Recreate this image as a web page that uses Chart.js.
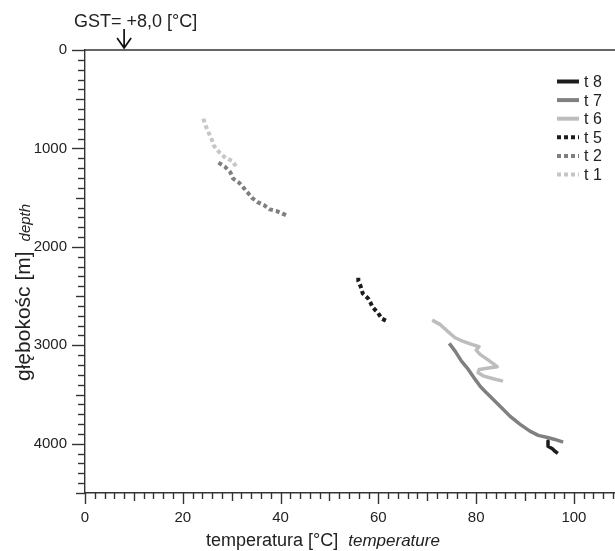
<!DOCTYPE html>
<html>
<head>
<meta charset="utf-8">
<script src="https://cdn.jsdelivr.net/npm/chart.js@4.4.0/dist/chart.umd.min.js"></script>
<style>
  html, body { margin: 0; padding: 0; background: #fff; overflow: hidden; }
  #wrap { width: 615px; height: 551px; }
</style>
</head>
<body>
<div id="wrap"><canvas id="profile" width="615" height="551"></canvas></div>
<script>
// temperature logs: temperature [°C] vs depth [m]
const t1Temp  = [24.2, 24.7, 25.3, 25.9, 26.4, 27.4, 28.8, 30.2, 30.9];
const t1Depth = [697, 772, 840, 907, 976, 1035, 1100, 1128, 1185];

const t2Temp  = [27.3, 28.6, 29.7, 30.3, 31.5, 32.4, 33.2, 34.1, 35.3, 36.6, 37.8, 39.2, 40.4, 41.6];
const t2Depth = [1144, 1185, 1240, 1307, 1347, 1398, 1443, 1500, 1545, 1575, 1619, 1636, 1662, 1687];

const t5Temp  = [55.9, 55.9, 56.4, 56.8, 57.9, 58.4, 58.8, 59.9, 60.7, 62.0];
const t5Depth = [2313, 2347, 2404, 2472, 2523, 2567, 2612, 2668, 2729, 2760];

const t6Temp  = [71.0, 72.6, 74.1, 75.7, 77.2, 79.1, 80.6, 80.0, 80.8, 82.5, 84.3, 82.5, 80.6, 80.4, 81.6, 83.5, 85.5];
const t6Depth = [2744, 2787, 2855, 2923, 2957, 2991, 3014, 3048, 3092, 3150, 3217, 3231, 3245, 3278, 3313, 3339, 3364];

const t7Temp  = [74.5, 75.7, 77.0, 78.4, 79.8, 80.9, 82.1, 83.5, 85.2, 86.9, 89.0, 91.0, 92.7, 94.4, 96.1, 97.8];
const t7Depth = [2980, 3059, 3160, 3245, 3346, 3420, 3481, 3549, 3634, 3719, 3803, 3872, 3915, 3933, 3956, 3983];

const t8Temp  = [94.7, 94.7, 95.6, 96.1, 96.7];
const t8Depth = [3973, 4024, 4050, 4075, 4098];

const seriesNames = ['t 1', 't 2', 't 5', 't 6', 't 7', 't 8'];
const xTicks = [0, 20, 40, 60, 80, 100];
const yTicks = [0, 1000, 2000, 3000, 4000];
const gstTemp = 8.0;

const FONT = '"Liberation Sans", Arial, sans-serif';
const TXT = '#222';
const AX = '#333';

const toPoints = (xs, ys) => xs.map((x, i) => ({ x: x, y: ys[i] }));

const styles = [
  { color: '#c6c6c6', dash: [4, 3], width: 4 },
  { color: '#7f7f7f', dash: [4, 3], width: 4 },
  { color: '#1c1c1c', dash: [4, 3], width: 4 },
  { color: '#bdbdbd', dash: [],     width: 3.5 },
  { color: '#808080', dash: [],     width: 3.5 },
  { color: '#1c1c1c', dash: [],     width: 3.5 }
];
const series = [
  [t1Temp, t1Depth], [t2Temp, t2Depth], [t5Temp, t5Depth],
  [t6Temp, t6Depth], [t7Temp, t7Depth], [t8Temp, t8Depth]
];

const datasets = series.map((s, i) => ({
  label: seriesNames[i],
  data: toPoints(s[0], s[1]),
  showLine: true,
  borderColor: styles[i].color,
  borderWidth: styles[i].width,
  borderDash: styles[i].dash,
  borderCapStyle: 'butt',
  borderJoinStyle: 'round',
  pointRadius: 0,
  tension: 0
}));

// axis ticks, titles, GST marker and legend
const decorations = {
  id: 'decorations',
  afterDraw(chart) {
    const ctx = chart.ctx;
    const xs = chart.scales.x, ys = chart.scales.y;
    const a = chart.chartArea;
    ctx.save();
    ctx.strokeStyle = AX;
    ctx.lineWidth = 1.4;

    // frame top
    ctx.beginPath();
    ctx.moveTo(a.left, a.top);
    ctx.lineTo(a.right, a.top);
    ctx.stroke();

    // depth ticks
    for (let v = 0; v <= 4500; v += 100) {
      const py = Math.round(ys.getPixelForValue(v)) + 0.5;
      const len = v % 1000 === 0 ? 13 : (v % 500 === 0 ? 9 : 7);
      ctx.beginPath();
      ctx.moveTo(a.left - len, py);
      ctx.lineTo(a.left, py);
      ctx.stroke();
    }
    // temperature ticks
    for (let v = 0; v <= 108; v += 2) {
      const px = Math.round(xs.getPixelForValue(v)) + 0.5;
      const len = v % 20 === 0 ? 11 : (v % 10 === 0 ? 8 : 6);
      ctx.beginPath();
      ctx.moveTo(px, a.bottom);
      ctx.lineTo(px, a.bottom + len);
      ctx.stroke();
    }

    // GST arrow
    const gx = xs.getPixelForValue(gstTemp);
    ctx.lineWidth = 1.7;
    ctx.strokeStyle = '#111';
    ctx.beginPath();
    ctx.moveTo(gx, 29);
    ctx.lineTo(gx, a.top - 2);
    ctx.moveTo(gx - 7, a.top - 12);
    ctx.lineTo(gx, a.top - 2);
    ctx.lineTo(gx + 7, a.top - 12);
    ctx.stroke();
    ctx.fillStyle = TXT;
    ctx.font = '18px ' + FONT;
    ctx.textAlign = 'left';
    ctx.textBaseline = 'alphabetic';
    ctx.fillText('GST= +8,0 [°C]', 74, 27);

    // x title
    ctx.font = '18px ' + FONT;
    const xt1 = 'temperatura [°C]';
    ctx.fillText(xt1, 206, 546);
    const w1 = ctx.measureText(xt1).width;
    ctx.font = 'italic 17px ' + FONT;
    ctx.fillText('temperature', 206 + w1 + 10, 546);

    // y title
    ctx.save();
    ctx.translate(30, 381);
    ctx.rotate(-Math.PI / 2);
    ctx.font = '21px ' + FONT;
    const yt1 = 'głębokośc [m]';
    ctx.fillText(yt1, 0, 0);
    const w2 = ctx.measureText(yt1).width;
    ctx.font = 'italic 15px ' + FONT;
    ctx.fillText('depth', w2 + 10, 0);
    ctx.restore();

    // legend, newest log first
    const order = chart.data.datasets.slice().reverse();
    ctx.font = '16px ' + FONT;
    ctx.textBaseline = 'middle';
    order.forEach((ds, i) => {
      const ly = 81.5 + i * 18.6;
      ctx.strokeStyle = ds.borderColor;
      ctx.lineWidth = 4;
      ctx.lineCap = 'butt';
      ctx.setLineDash(ds.borderDash);
      ctx.beginPath();
      ctx.moveTo(557, ly);
      ctx.lineTo(579, ly);
      ctx.stroke();
      ctx.setLineDash([]);
      ctx.fillStyle = TXT;
      ctx.fillText(ds.label, 584, ly + 1);
    });
    ctx.restore();
  }
};

new Chart(document.getElementById('profile'), {
  type: 'scatter',
  data: { datasets: datasets },
  options: {
    responsive: false,
    animation: false,
    layout: { padding: { top: 50, left: 0, right: 0, bottom: 0 } },
    plugins: { legend: { display: false }, tooltip: { enabled: false } },
    scales: {
      x: {
        type: 'linear',
        position: 'bottom',
        min: 0,
        max: 108.4,
        afterFit: s => { s.height = 58; },
        afterBuildTicks: s => { s.ticks = xTicks.map(v => ({ value: v })); },
        ticks: { font: { size: 15, family: FONT }, color: TXT, padding: 16, maxRotation: 0, callback: v => String(v) },
        grid: { display: false, drawTicks: false },
        border: { display: true, color: AX, width: 1.4 }
      },
      y: {
        type: 'linear',
        reverse: true,
        min: 0,
        max: 4500,
        afterFit: s => { s.width = 85; },
        afterBuildTicks: s => { s.ticks = yTicks.map(v => ({ value: v })); },
        ticks: { font: { size: 15, family: FONT }, color: TXT, padding: 18, callback: v => String(v) },
        grid: { display: false, drawTicks: false },
        border: { display: true, color: AX, width: 1.4 }
      }
    }
  },
  plugins: [decorations]
});
</script>
</body>
</html>
